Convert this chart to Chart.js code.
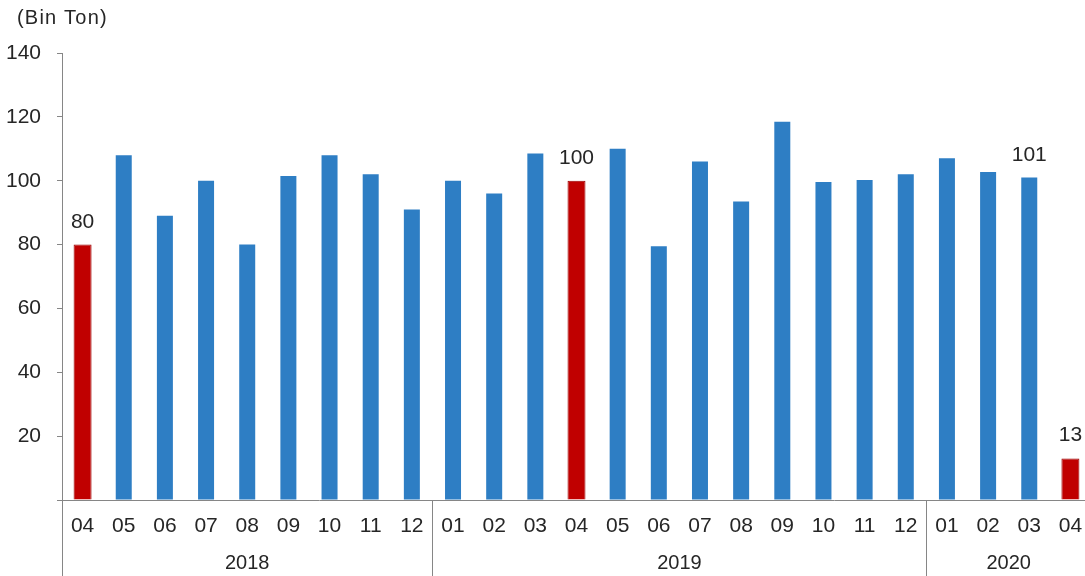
<!DOCTYPE html>
<html>
<head>
<meta charset="utf-8">
<script src="https://cdn.jsdelivr.net/npm/chart.js@4"></script>
<style>
  html, body { margin: 0; padding: 0; background: #ffffff; overflow: hidden; }
  #wrap { position: relative; width: 1091px; height: 576px; }
</style>
</head>
<body>
<div id="wrap"><canvas id="c" width="1091" height="576"></canvas></div>
<script>
// ---- data ----
const months = ['04','05','06','07','08','09','10','11','12',
                '01','02','03','04','05','06','07','08','09','10','11','12',
                '01','02','03','04'];
const values = [80, 108, 89, 100, 80, 101.5, 108, 102, 91,
                100, 96, 108.5, 100, 110, 79.5, 106, 93.5, 118.5, 99.6, 100.2, 102,
                107, 102.7, 101, 13];
const highlightMonth = '04';
const labeledIdx = [0, 12, 23, 24];
const years = ['2018', '2019', '2020'];
const yearCounts = [9, 12, 4];
const yTicks = { min: 0, max: 140, step: 20 };
const unitTitle = '(Bin Ton)';

// ---- derived datasets ----
const blueValues = values.map((v, i) => months[i] === highlightMonth ? null : v);
const redValues = values.map((v, i) => months[i] === highlightMonth ? v : null);

const FONT = "'Liberation Sans', Arial, sans-serif";
const TEXT = '#262626';
const AXIS = '#868686';

const titlePlugin = {
  id: 'unitTitle',
  afterDraw(chart) {
    const ctx = chart.ctx;
    ctx.save();
    ctx.font = '20px ' + FONT;
    try { ctx.letterSpacing = '1.2px'; } catch (e) {}
    ctx.fillStyle = TEXT;
    ctx.textAlign = 'left';
    ctx.textBaseline = 'middle';
    ctx.fillText(unitTitle, 17, 18);
    ctx.restore();
  }
};

const groupPlugin = {
  id: 'yearGroups',
  afterDraw(chart) {
    const { ctx } = chart;
    const x = chart.scales.x;
    const w = x.getPixelForValue(1) - x.getPixelForValue(0);
    let start = 0;
    ctx.save();
    ctx.strokeStyle = AXIS;
    ctx.lineWidth = 1;
    ctx.font = '20px ' + FONT;
    ctx.fillStyle = TEXT;
    ctx.textAlign = 'center';
    ctx.textBaseline = 'middle';
    years.forEach((yr, gi) => {
      const count = yearCounts[gi];
      const left = x.getPixelForValue(start) - w / 2;
      const right = x.getPixelForValue(start + count - 1) + w / 2;
      const lx = Math.round(left) + 0.5;
      ctx.beginPath();
      ctx.moveTo(lx, x.top);
      ctx.lineTo(lx, chart.height);
      ctx.stroke();
      ctx.fillText(yr, (left + right) / 2, 563);
      start += count;
    });
    ctx.restore();
  }
};

const labelPlugin = {
  id: 'valueLabels',
  afterDatasetsDraw(chart) {
    const { ctx } = chart;
    const x = chart.scales.x;
    const y = chart.scales.y;
    ctx.save();
    ctx.font = '21px ' + FONT;
    ctx.fillStyle = TEXT;
    ctx.textAlign = 'center';
    ctx.textBaseline = 'alphabetic';
    labeledIdx.forEach((i) => {
      const v = values[i];
      ctx.fillText(String(Math.round(v)), x.getPixelForValue(i), y.getPixelForValue(v) - 17);
    });
    ctx.restore();
  }
};

new Chart(document.getElementById('c'), {
  type: 'bar',
  data: {
    labels: months,
    datasets: [
      {
        data: blueValues,
        backgroundColor: '#2E7EC4',
        borderWidth: 0,
        barPercentage: 16 / 41.16,
        categoryPercentage: 1,
        grouped: false
      },
      {
        data: redValues,
        backgroundColor: '#C00000',
        borderColor: '#9A0000',
        borderWidth: 1,
        barPercentage: 18 / 41.16,
        categoryPercentage: 1,
        grouped: false
      }
    ]
  },
  options: {
    responsive: false,
    animation: false,
    devicePixelRatio: 1,
    layout: { padding: { top: 53, left: 0, right: 0, bottom: 0 } },
    plugins: {
      legend: { display: false },
      tooltip: { enabled: false },
      title: { display: false }
    },
    scales: {
      x: {
        offset: true,
        grid: { display: false, drawTicks: false, tickLength: 0 },
        border: { display: true, color: AXIS, width: 1 },
        ticks: {
          color: TEXT,
          font: { family: FONT, size: 21 },
          padding: 14,
          maxRotation: 0,
          autoSkip: false
        },
        afterFit(scale) {
          scale.height = 76;
          scale.paddingLeft = 0;
          scale.paddingRight = 0;
        }
      },
      y: {
        min: yTicks.min,
        max: yTicks.max,
        grid: { display: true, drawOnChartArea: false, drawTicks: true, tickLength: 5, color: AXIS },
        border: { display: true, color: AXIS, width: 1 },
        ticks: {
          stepSize: yTicks.step,
          color: TEXT,
          font: { family: FONT, size: 21 },
          padding: 16,
          callback: (v) => (v === 0 ? '' : v)
        },
        afterFit(scale) { scale.width = 62; }
      }
    }
  },
  plugins: [titlePlugin, groupPlugin, labelPlugin]
});
</script>
</body>
</html>
